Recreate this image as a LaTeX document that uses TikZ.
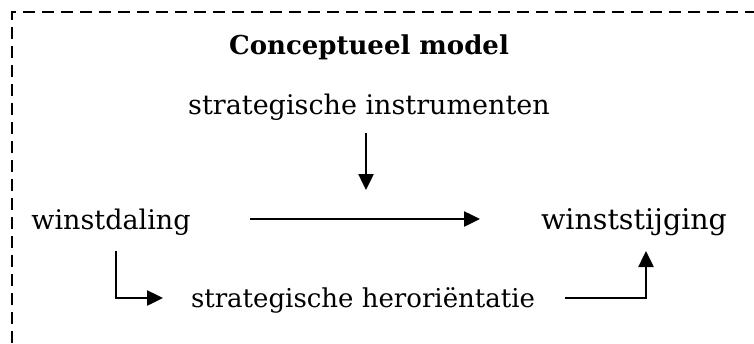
\documentclass[tikz,border=0pt]{standalone}
\usepackage{fontspec}
\setmainfont{DejaVu Serif}
\usetikzlibrary{arrows.meta}
\begin{document}
\begin{tikzpicture}[x=1pt,y=-1pt,
  lbl/.style={inner sep=0pt,anchor=base,font=\fontsize{27}{32}\selectfont},
  arr/.style={line width=2.5pt,-{Triangle[length=16pt,width=15pt]}},
  frame/.style={line width=2.2pt,dash pattern=on 12pt off 7pt}]
\useasboundingbox (0,0) rectangle (754,343);
\draw[frame] (12,343) -- (12,12) -- (754,12);
\node[lbl,font=\fontsize{26}{30}\selectfont\bfseries] (title) at (369,54) {Conceptueel model};
\node[lbl] (instr) at (369,114) {strategische instrumenten};
\node[lbl] (wd) at (111,229) {winstdaling};
\node[lbl,font=\fontsize{28.5}{32}\selectfont] (ws) at (634,229) {winststijging};
\node[lbl,font=\fontsize{26}{32}\selectfont] (hero) at (363,307) {strategische heroriëntatie};
\coordinate (a1) at (366,133);
\coordinate (a2) at (366,190);
\draw[arr] (a1) -- (a2);
\coordinate (h1) at (250,219);
\coordinate (h2) at (480,219);
\draw[arr] (h1) -- (h2);
\coordinate (l1) at (116,251);
\coordinate (l2) at (163,298);
\draw[arr] (l1) |- (l2);
\coordinate (r1) at (565,298);
\coordinate (r2) at (646,251);
\draw[arr] (r1) -| (r2);
\end{tikzpicture}
\end{document}
